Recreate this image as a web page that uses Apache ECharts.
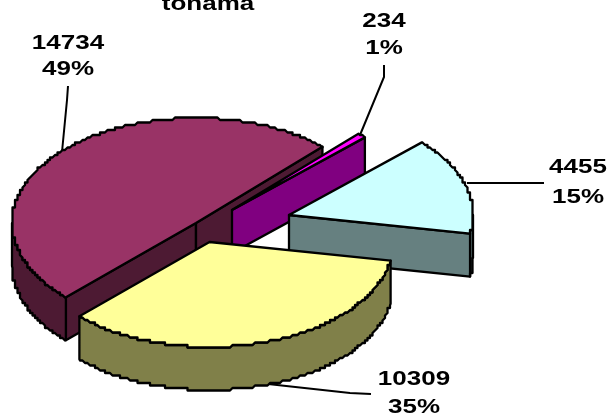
<!DOCTYPE html>
<html><head><meta charset="utf-8">
<style>html,body{margin:0;padding:0;background:#fff}#c{width:609px;height:414px}</style>
<script src="https://cdn.jsdelivr.net/npm/echarts@6/dist/echarts.min.js"></script>
</head><body><div id="c"></div>
<script>
// Data
const values = [14734, 234, 4455, 10309];
const percents = ['49%', '1%', '15%', '35%'];
const titleText = 'tonama';

// Styles and layout
const topColors = ['#993366', '#FF00FF', '#CCFFFF', '#FFFF99'];
const wallColors = ['#4D1A33', '#800080', '#668080', '#808049'];
const apexes = [[196,223],[232,210],[289,215],[209.5,242]];
const labelPos = [[68,43,69],[384,21,48],[578,167,197],[414,379,407]];
const leaders = [
  [[68,86],[67,100],[62,152]],
  [[384,65],[384,77],[360,135]],
  [[544,183],[532,183],[467,183]],
  [[371,394],[350,393],[268,384]]
];
const RX = 184, RY = 105, DEPTH = 43, START = 225, GRID = 2.5;
const total = values.reduce((a,b)=>a+b,0);
const snap = v => Math.round(v / GRID) * GRID;
const rad = d => d * Math.PI / 180;
function pt(ap, deg, dz, jag) {
  let x = ap[0] + RX * Math.sin(rad(deg));
  let y = ap[1] - RY * Math.cos(rad(deg));
  if (jag) { x = snap(x); y = snap(y); }
  return [x, y + (dz || 0)];
}
function arcPts(ap, a, b, dz) {
  const out = [pt(ap, a, dz)];
  for (let d = a + 0.6; d < b; d += 0.6) out.push(pt(ap, d, dz, true));
  out.push(pt(ap, b, dz));
  return out;
}
function frontFacing(normal) { return Math.cos(rad(normal)) < 0; }
const stroke = {stroke:'#000', lineWidth:2.3, lineJoin:'round'};
function poly(points, fill) {
  return {type:'polygon', shape:{points}, style:Object.assign({fill}, stroke)};
}
function renderSlice(params, api) {
  const i = api.value(1);
  let a = START;
  for (let k = 0; k < i; k++) a += values[k] / total * 360;
  const b = a + api.value(0) / total * 360;
  const ap = apexes[i], wall = wallColors[i], kids = [];
  const apLow = [ap[0], ap[1] + DEPTH];
  if (frontFacing(a - 90)) {
    kids.push(poly([ap, pt(ap,a), pt(ap,a,DEPTH), apLow], wall));
  }
  if (frontFacing(b + 90)) {
    kids.push(poly([ap, pt(ap,b), pt(ap,b,DEPTH), apLow], wall));
  }
  // outer rim, only the part turned to the viewer
  for (const [lo, hi] of [[90,270],[450,630]]) {
    const s = Math.max(a, lo), e = Math.min(b, hi);
    if (s < e) {
      const upper = arcPts(ap, s, e, 0);
      const lower = arcPts(ap, s, e, DEPTH).reverse();
      kids.push(poly(upper.concat(lower), wall));
    }
  }
  kids.push(poly([ap].concat(arcPts(ap, a, b, 0)), topColors[i]));
  return {type:'group', children:kids};
}
function txt(text, x, y) {
  return {type:'text', x, y, scaleX:1.3,
    style:{text, font:'bold 20px "Liberation Sans", Arial, sans-serif', fill:'#000',
      textAlign:'center', textVerticalAlign:'middle'}};
}
function renderLabel(params, api) {
  const i = api.value(1), p = labelPos[i];
  return {type:'group', children:[
    {type:'polyline', shape:{points:leaders[i]}, style:{stroke:'#000', lineWidth:2, fill:'none'}},
    txt(String(api.value(0)), p[0], p[1]),
    txt(percents[i], p[0], p[2])
  ]};
}
const seriesData = values.map((v,i)=>[v,i]);
const chart = echarts.init(document.getElementById('c'), null, {renderer:'canvas'});
chart.setOption({
  animation:false,
  backgroundColor:'#fff',
  xAxis:{show:false}, yAxis:{show:false},
  series:[
    {type:'custom', coordinateSystem:'none', z:1, data:seriesData, renderItem:renderLabel, silent:true},
    {type:'custom', coordinateSystem:'none', z:2, data:seriesData, renderItem:renderSlice, silent:true},
    {type:'custom', coordinateSystem:'none', z:3, data:[[0]], silent:true,
      renderItem:()=>txt(titleText, 208, 4)}
  ]
});
</script></body></html>
